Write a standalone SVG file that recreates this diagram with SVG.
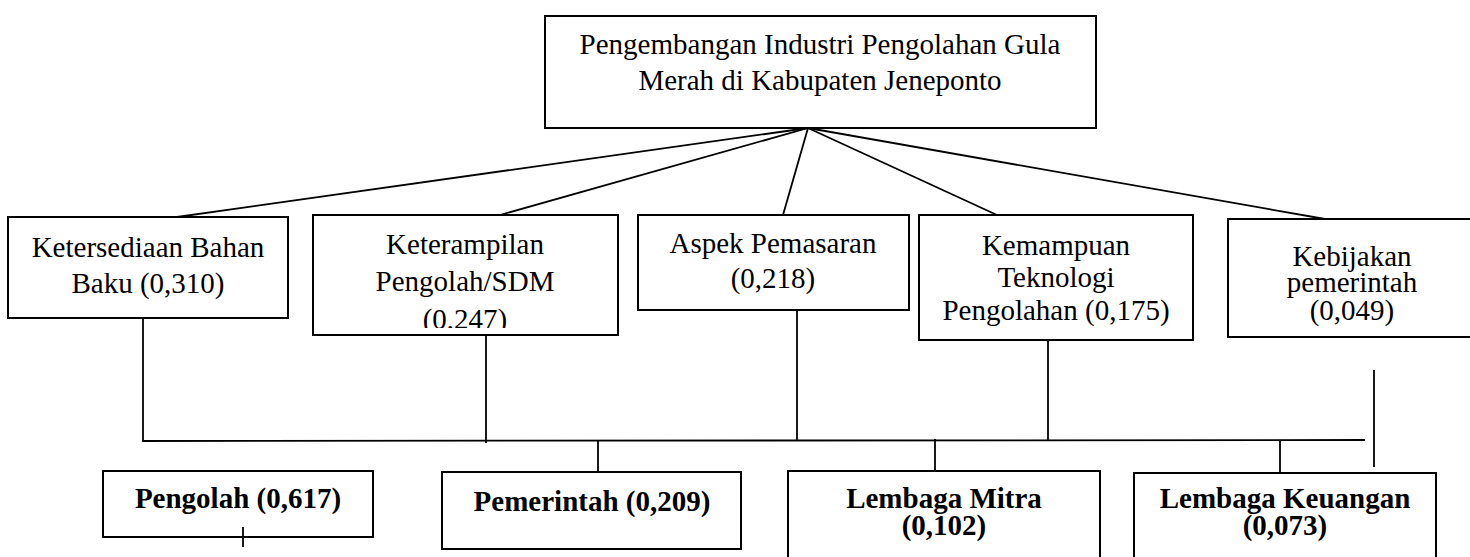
<svg xmlns="http://www.w3.org/2000/svg" width="1470" height="557" viewBox="0 0 1470 557">
<style>
.box{fill:#fff;stroke:#000;stroke-width:2}
.t{font-family:"Liberation Serif","Times New Roman",serif;font-size:29px;fill:#000;text-anchor:middle}
.b{font-weight:bold}
.c{stroke:#000;stroke-width:1.8;fill:none}
</style>
<defs>
<clipPath id="clipK"><rect x="313" y="215" width="305" height="113"/></clipPath>
</defs>
<rect width="1470" height="557" fill="#fff"/>
<g id="connectors">
<line class="c" x1="808" y1="128" x2="177" y2="217"/>
<line class="c" x1="808" y1="128" x2="500" y2="215"/>
<line class="c" x1="808" y1="128" x2="783" y2="215"/>
<line class="c" x1="808" y1="128" x2="997" y2="215"/>
<line class="c" x1="808" y1="128" x2="1325" y2="219"/>
<line class="c" x1="143" y1="318" x2="143" y2="441"/>
<line class="c" x1="486" y1="335" x2="486" y2="443"/>
<line class="c" x1="797" y1="310" x2="797" y2="441"/>
<line class="c" x1="1048" y1="340" x2="1048" y2="441"/>
<line class="c" x1="1374" y1="370" x2="1374" y2="467"/>
<line class="c" x1="142" y1="441" x2="1365" y2="440"/>
<line class="c" x1="598" y1="441" x2="598" y2="472"/>
<line class="c" x1="935" y1="439" x2="935" y2="471"/>
<line class="c" x1="1280" y1="440" x2="1280" y2="473"/>
</g>
<g id="goal">
<rect class="box" x="545" y="16" width="551" height="112"/>
<text class="t" x="820" y="54">Pengembangan Industri Pengolahan Gula</text>
<text class="t" x="820" y="90">Merah di Kabupaten Jeneponto</text>
</g>
<g id="c1">
<rect class="box" x="8" y="217" width="280" height="101"/>
<text class="t" x="148" y="257">Ketersediaan Bahan</text>
<text class="t" x="148" y="293">Baku (0,310)</text>
</g>
<g id="c2">
<rect class="box" x="313" y="215" width="305" height="120"/>
<text class="t" x="465" y="254">Keterampilan</text>
<text class="t" x="465" y="291">Pengolah/SDM</text>
<text class="t" x="465" y="329" clip-path="url(#clipK)">(0,247)</text>
</g>
<g id="c3">
<rect class="box" x="638" y="215" width="271" height="95"/>
<text class="t" x="773" y="253">Aspek Pemasaran</text>
<text class="t" x="773" y="288">(0,218)</text>
</g>
<g id="c4">
<rect class="box" x="919" y="215" width="274" height="125"/>
<text class="t" x="1056" y="255">Kemampuan</text>
<text class="t" x="1056" y="287">Teknologi</text>
<text class="t" x="1056" y="320">Pengolahan (0,175)</text>
</g>
<g id="c5">
<rect class="box" x="1228" y="219" width="250" height="118"/>
<text class="t" x="1352" y="266">Kebijakan</text>
<text class="t" x="1352" y="292">pemerintah</text>
<text class="t" x="1352" y="320">(0,049)</text>
</g>
<g id="a1">
<rect class="box" x="103" y="471" width="270" height="66"/>
<text class="t b" x="238" y="508">Pengolah (0,617)</text>
<line class="c" x1="243" y1="527" x2="243" y2="547"/>
</g>
<g id="a2">
<rect class="box" x="442" y="472" width="299" height="77"/>
<text class="t b" x="592" y="511">Pemerintah (0,209)</text>
</g>
<g id="a3">
<rect class="box" x="788" y="471" width="312" height="100"/>
<text class="t b" x="944" y="508">Lembaga Mitra</text>
<text class="t b" x="944" y="535">(0,102)</text>
</g>
<g id="a4">
<rect class="box" x="1134" y="473" width="302" height="100"/>
<text class="t b" x="1285" y="508">Lembaga Keuangan</text>
<text class="t b" x="1285" y="535">(0,073)</text>
</g>
</svg>
